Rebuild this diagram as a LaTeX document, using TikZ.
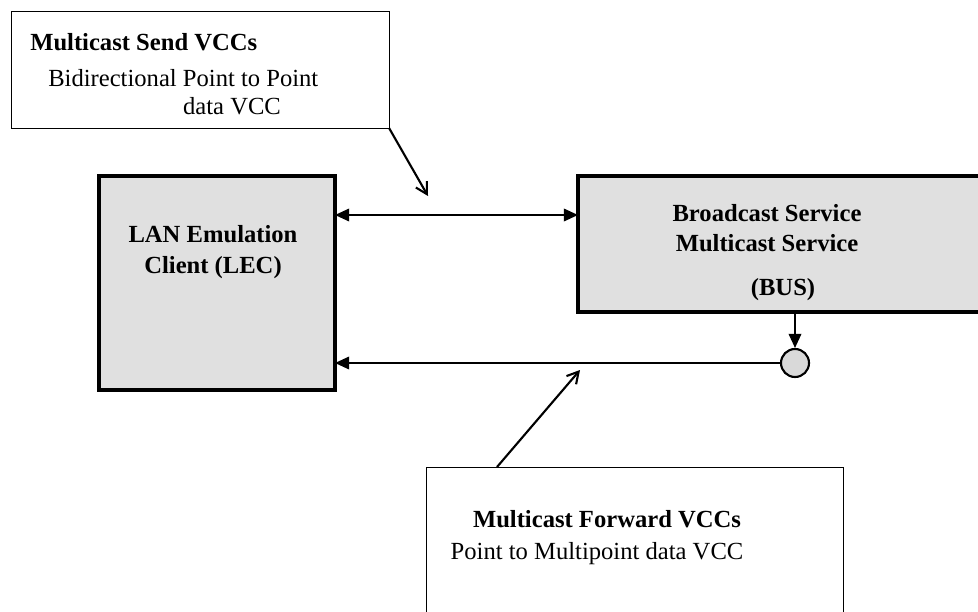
\documentclass[tikz,border=0pt]{standalone}
\usepackage{fontspec}
\setmainfont{Liberation Serif}
\usetikzlibrary{arrows.meta}

\begin{document}
\begin{tikzpicture}[x=0.025cm, y=-0.025cm,
    font=\fontsize{17.5}{22}\selectfont,
    notebox/.style={draw, line width=0.6pt, inner sep=0pt, outer sep=0pt},
    unitbox/.style={draw, line width=2.2pt, fill=black!12, inner sep=0pt, outer sep=0pt},
    vcc/.style={line width=1pt, -{Triangle[length=10pt, width=9pt]}},
    pointer/.style={line width=1.5pt, -{Straight Barb[length=8pt, width=9pt]}},
    txt/.style={inner sep=0pt}]
    \useasboundingbox (0, 0) rectangle (978, 611);
    \clip (0, 0) rectangle (978, 611);
    % Boxes
    \node [notebox, minimum width=9.45cm, minimum height=2.925cm] (send) at (200, 69.5) {};
    \node [unitbox, minimum width=5.9cm, minimum height=5.35cm] (lec) at (217, 283) {};
    \node [unitbox, minimum width=10.8cm, minimum height=3.4cm] (bus) at (794, 244) {};
    \node [notebox, minimum width=10.425cm, minimum height=4.325cm] (fwd) at (634.5, 553.5) {};
    \node [circle, draw, line width=1.5pt, fill=black!15, minimum size=0.7cm, inner sep=0pt] (junc) at (795, 363) {};
    % Texts
    \node [txt, anchor=west] (sendhead) at (30, 42) {\textbf{Multicast Send VCCs}};
    \node [txt, anchor=west] (sendline) at (48, 78) {Bidirectional Point to Point};
    \node [txt] (sendtail) at (232, 106) {data VCC};
    \node [txt, align=center] (lectext) at (213, 252) {\textbf{LAN Emulation}\\\textbf{Client (LEC)}};
    \node [txt] (bcast) at (767, 213) {\textbf{Broadcast Service}};
    \node [txt] (mcast) at (767, 243) {\textbf{Multicast Service}};
    \node [txt] (busname) at (783, 290) {\textbf{(BUS)}};
    \node [txt] (fwdhead) at (607, 519) {\textbf{Multicast Forward VCCs}};
    \node [txt] (fwdline) at (597, 554) {Point to Multipoint data VCC};
    % Connectors
    \coordinate (sendy) at (0, 215);
    \coordinate (sendtip) at (428, 196);
    \coordinate (fwdtail) at (497, 467);
    \coordinate (fwdtip) at (580, 370);
    \draw [vcc, {Triangle[length=10pt, width=9pt]}-{Triangle[length=10pt, width=9pt]}] (lec.east |- sendy) -- (bus.west |- sendy);
    \draw [vcc] (junc.west) -- (lec.east |- junc);
    \draw [vcc] (bus.south -| junc) -- (junc.north);
    \draw [pointer] (send.south east) -- (sendtip);
    \draw [pointer] (fwdtail) -- (fwdtip);
\end{tikzpicture}
\end{document}
